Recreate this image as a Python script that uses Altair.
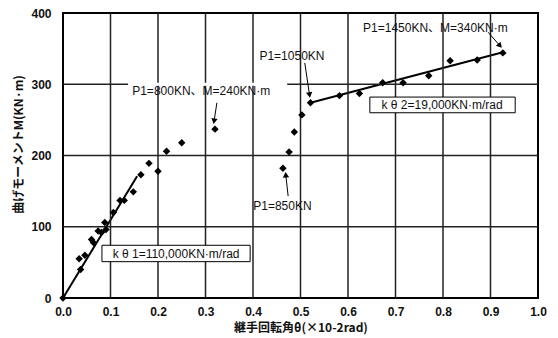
import altair as alt
import pandas as pd

# measured points: joint rotation angle (x10^-2 rad) vs bending moment (kN·m)
theta = [0.0, 0.034, 0.037, 0.046, 0.060, 0.064, 0.074, 0.081, 0.088, 0.0905,
         0.106, 0.120, 0.129, 0.148, 0.164, 0.181, 0.200, 0.218, 0.250, 0.320,
         0.463, 0.476, 0.487, 0.503, 0.521, 0.582, 0.624, 0.673, 0.716, 0.770,
         0.815, 0.872, 0.926]
moment = [0, 55, 40, 60, 82, 78, 94, 92, 106, 96,
          120, 137, 137, 149, 173, 189, 178, 206, 218, 237,
          182, 205, 233, 257, 274, 284, 287, 302, 302, 312,
          333, 334, 344]

x_ticks = [0.0, 0.1, 0.2, 0.3, 0.4, 0.5, 0.6, 0.7, 0.8, 0.9, 1.0]
y_ticks = [0, 100, 200, 300, 400]

# stiffness lines
line_id = ["k1", "k1", "k2", "k2"]
line_x = [0.0, 0.156, 0.521, 0.926]
line_y = [0, 171, 274, 345]

# annotations
note_text = ["P1=800KN、M=240KN·m", "P1=1050KN", "P1=1450KN、M=340KN·m", "P1=850KN",
             "k θ 2=19,000KN·m/rad", "k θ 1=110,000KN·m/rad"]
note_x = [0.291, 0.482, 0.784, 0.462, 0.798, 0.238]
note_y = [291, 339, 379, 129, 271, 62]

box_x = [0.646, 0.082]
box_x2 = [0.952, 0.394]
box_y = [260, 51]
box_y2 = [282, 74]

arrow_x = [0.324, 0.509, 0.895, 0.474]
arrow_y = [274, 330, 373, 143]
arrow_x2 = [0.318, 0.519, 0.920, 0.469]
arrow_y2 = [248, 285, 354, 173]
arrow_angle = [189, 172, 139, 355]

pts = pd.DataFrame({"x": theta, "y": moment})
lines = pd.DataFrame({"id": line_id, "x": line_x, "y": line_y})
notes = pd.DataFrame({"t": note_text, "x": note_x, "y": note_y})
boxes = pd.DataFrame({"x": box_x, "x2": box_x2, "y": box_y, "y2": box_y2})
arrows = pd.DataFrame({"x": arrow_x, "y": arrow_y, "x2": arrow_x2, "y2": arrow_y2, "a": arrow_angle})
gap = pd.DataFrame({"x": [0.137], "x2": [0.472], "y": [300]})
# grid segments (from tick arrays)
vg = pd.DataFrame({"x": x_ticks[1:-1], "y": [0] * 9, "y2": [400] * 9})
hg = pd.DataFrame({"y": y_ticks[1:-1], "x": [0.0] * 3, "x2": [1.0] * 3})

xs = alt.Scale(domain=[0, 1], nice=False)
ys = alt.Scale(domain=[0, 400], nice=False)

LBL_FONT = "Liberation Sans"
CJK = "Liberation Sans, Noto Sans CJK JP"

xaxis = alt.Axis(values=x_ticks, format=".1f", ticks=False, domain=False, grid=False,
                 labelFlush=False, labelFont=LBL_FONT, labelFontSize=12,
                 labelFontWeight="bold", labelColor="#111", labelPadding=8,
                 title="継手回転角θ(×10-2rad)", titleFont="Noto Sans CJK JP", titleFontSize=12,
                 titleFontWeight="bold", titleColor="#111", titlePadding=5)
yaxis = alt.Axis(values=y_ticks, ticks=False, domain=False, grid=False,
                 labelFlush=False, labelFont=LBL_FONT, labelFontSize=12,
                 labelFontWeight="bold", labelColor="#111", labelPadding=12,
                 title="曲げモーメントM(KN·m)", titleFont="Noto Sans CJK JP", titleFontSize=12,
                 titleFontWeight="bold", titleColor="#111", titleX=-45, titleY=131,
                 titleAngle=270, titleAlign="center", titleBaseline="middle")

X = alt.X("x:Q", scale=xs, axis=xaxis)
Y = alt.Y("y:Q", scale=ys, axis=yaxis)

line_layer = alt.Chart(lines).mark_line(color="black", strokeWidth=2).encode(
    x=X, y=Y, detail="id:N")

vgrid_layer = alt.Chart(vg).mark_rule(color="#222", strokeWidth=1.5).encode(
    x=X, y=Y, y2="y2:Q")
hgrid_layer = alt.Chart(hg).mark_rule(color="#222", strokeWidth=1.5).encode(
    x=X, x2="x2:Q", y=Y)

gap_rule = alt.Chart(gap).mark_rule(color="white", strokeWidth=3).encode(
    x=X, x2="x2:Q", y=Y)

point_layer = alt.Chart(pts).mark_point(shape="diamond", filled=True, color="black",
                                        size=55, opacity=1).encode(x=X, y=Y)

box_layer = alt.Chart(boxes).mark_rect(fill="white", stroke="black", strokeWidth=1).encode(
    x=X, x2="x2:Q", y=Y, y2="y2:Q")

text_layer = alt.Chart(notes).mark_text(font=CJK, fontSize=12, color="#111",
                                        fontWeight="normal").encode(x=X, y=Y, text="t:N")

arrow_line = alt.Chart(arrows).mark_rule(color="black", strokeWidth=1).encode(
    x=X, y=Y, x2="x2:Q", y2="y2:Q")

arrow_head = alt.Chart(arrows).transform_calculate(hx="datum.x2", hy="datum.y2").mark_point(
    shape="triangle-up", filled=True, color="black", size=40, opacity=1).encode(
    x=alt.X("hx:Q", scale=xs, axis=xaxis), y=alt.Y("hy:Q", scale=ys, axis=yaxis),
    angle=alt.Angle("a:Q", scale=None))

chart = alt.layer(line_layer, vgrid_layer, hgrid_layer, gap_rule, point_layer, box_layer,
                  text_layer, arrow_line, arrow_head).properties(
    width=475, height=285,
    autosize=alt.AutoSizeParams(type="none"),
    padding={"left": 55, "top": 5, "right": 12, "bottom": 40},
    background="white",
).configure_view(stroke="black", strokeWidth=2)

chart.save("out.html", embed_options={"renderer": "svg", "actions": False})
